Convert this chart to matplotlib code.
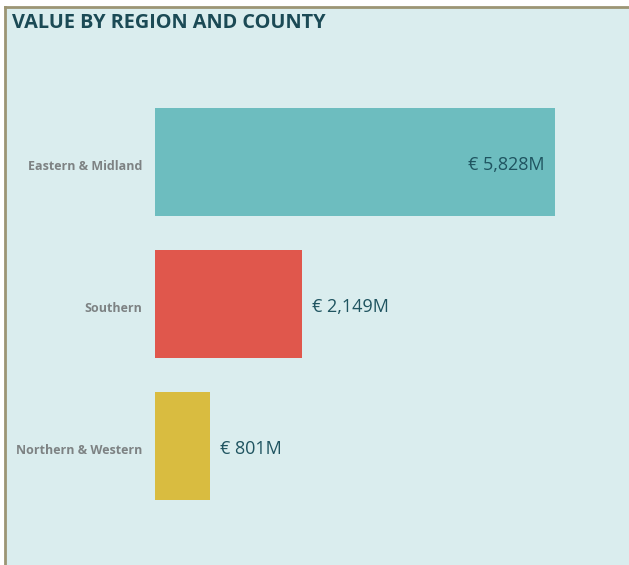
import matplotlib.pyplot as plt
from matplotlib.patches import Rectangle

regions = ["Eastern & Midland", "Southern", "Northern & Western"]
values = [5828, 2149, 801]
value_labels = ["€ 5,828M", "€ 2,149M", "€ 801M"]
colors = ["#6DBDBF", "#E0574C", "#D9BC40"]

W, H = 629, 565
fig = plt.figure(figsize=(W / 100, H / 100), dpi=100)
fig.patch.set_facecolor("white")

# card background + border (left and top only)
fig.patches.append(Rectangle((5 / W, 0), 1 - 5 / W, 1 - 8 / H, transform=fig.transFigure,
                             facecolor="#DAEDEE", edgecolor="none", zorder=-5))
fig.add_artist(plt.Line2D([5 / W, 5 / W], [0, 1 - 7 / H], color="#9C9574", lw=2, zorder=-4))
fig.add_artist(plt.Line2D([5 / W, 1], [1 - 7 / H, 1 - 7 / H], color="#9C9574", lw=2, zorder=-4))

fig.text(12 / W, 1 - 23 / H, "VALUE BY REGION AND COUNTY", fontsize=14.3, fontweight="bold",
         family="Open Sans", color="#1B4A55", va="center", ha="left")

ax = fig.add_axes([155 / W, 1 - 517 / H, 400 / W, 426 / H])
ax.set_facecolor("none")
y = range(len(regions))
ax.barh(y, values, height=0.76, color=colors)
ax.set_xlim(0, values[0])
ax.set_ylim(len(regions) - 0.5, -0.5)
ax.set_yticks([i + 0.02 for i in y])
ax.set_yticklabels(regions, fontsize=9, fontweight="bold", family="Open Sans", color="#7D8283")
ax.tick_params(axis="y", length=0, pad=9)
ax.set_xticks([])
for s in ax.spines.values():
    s.set_visible(False)

for i, (v, lab) in enumerate(zip(values, value_labels)):
    if i == 0:
        ax.text(v - 10 * values[0] / 400, i + 0.02, lab, ha="right", va="center", fontsize=13,
                family="Open Sans", color="#1F5460")
    else:
        ax.text(v + 10 * values[0] / 400, i + 0.02, lab, ha="left", va="center", fontsize=13,
                family="Open Sans", color="#1F5460", clip_on=False)

fig.savefig("out.png", dpi=100)
